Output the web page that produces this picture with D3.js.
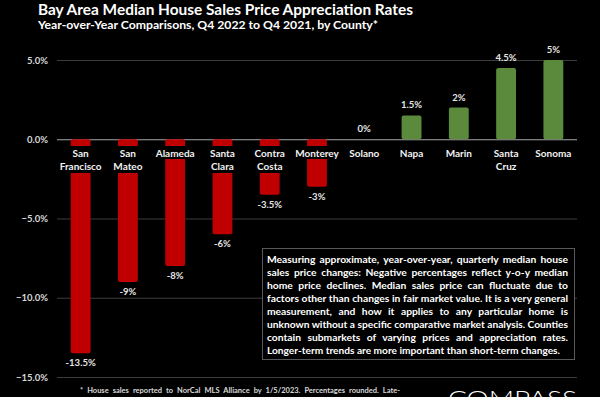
<!DOCTYPE html>
<html>
<head>
<meta charset="utf-8">
<script src="https://cdn.jsdelivr.net/npm/d3@7"></script>
<style>
  body { margin: 0; background: #000; }
  svg { display: block; font-family: Lato, "Open Sans", sans-serif; }
</style>
</head>
<body>
<div id="chart"></div>
<script>
// Data
const counties = ["San Francisco", "San Mateo", "Alameda", "Santa Clara", "Contra Costa",
    "Monterey", "Solano", "Napa", "Marin", "Santa Cruz", "Sonoma"];
const changes = [-13.5, -9, -8, -6, -3.5, -3, 0, 1.5, 2, 4.5, 5];
const yTicks = [-15, -10, -5, 0, 5];

const title = "Bay Area Median House Sales Price Appreciation Rates";
const subtitle = "Year-over-Year Comparisons, Q4 2022 to Q4 2021, by County*";
const noteLines = [
    "Measuring approximate, year-over-year, quarterly median house",
    "sales price changes: Negative percentages reflect y-o-y median",
    "home price declines. Median sales price can fluctuate due to",
    "factors other than changes in fair market value. It is a very general",
    "measurement, and how it applies to any particular home is",
    "unknown without a specific comparative market analysis. Counties",
    "contain submarkets of varying prices and appreciation rates.",
    "Longer-term trends are more important than short-term changes."
];
const footnote = "* House sales reported to NorCal MLS Alliance by 1/5/2023. Percentages rounded. Late-";

const data = counties.map((c, i) => ({ county: c, value: changes[i] }));

const width = 600, height = 397;
const svg = d3.select("#chart").append("svg")
    .attr("width", width)
    .attr("height", height);

svg.append("rect").attr("width", width).attr("height", height).attr("fill", "#000");

// fit a text line to a given width by spreading words (or squeezing if too long)
function fitLine(sel, w, squeeze) {
    sel.each(function() {
        const t = d3.select(this);
        const natural = this.getComputedTextLength();
        const spaces = (t.text().match(/ /g) || []).length;
        if (natural > w || squeeze) {
            t.attr("textLength", w).attr("lengthAdjust", "spacingAndGlyphs");
        } else if (spaces > 0) {
            t.attr("word-spacing", (w - natural) / spaces);
        }
    });
}

// Titles
svg.append("text")
    .attr("x", 38).attr("y", 15)
    .attr("fill", "#fff")
    .attr("font-size", 16).attr("font-weight", 700)
    .text(title)
    .call(fitLine, 375, true);

svg.append("text")
    .attr("x", 38).attr("y", 29)
    .attr("fill", "#fff")
    .attr("font-size", 12).attr("font-weight", 700)
    .text(subtitle)
    .call(fitLine, 340, true);

// Scales
const x = d3.scaleBand()
    .domain(counties)
    .range([57, 577])
    .paddingInner(0.58)
    .paddingOuter(0.29);

const y = d3.scaleLinear()
    .domain([-15, 5])
    .range([377, 60]);

// Y axis with gridlines
const yAxis = svg.append("g")
    .attr("transform", "translate(57,0)")
    .call(d3.axisLeft(y)
        .tickValues(yTicks)
        .tickSize(-520)
        .tickPadding(9)
        .tickFormat(d => d3.format(".1f")(d) + "%"));

yAxis.select(".domain").remove();
yAxis.selectAll(".tick line")
    .attr("stroke", d => d === 0 ? "#a6a6a6" : "#3c3c3c")
    .attr("stroke-width", 1);
yAxis.selectAll(".tick text")
    .attr("fill", "#d9d9d9")
    .attr("font-size", 9.5)
    .attr("font-weight", 700)
    .attr("font-family", "Lato, sans-serif");

// Bars
svg.selectAll(".bar")
    .data(data)
    .join("rect")
    .attr("class", "bar")
    .attr("x", d => x(d.county))
    .attr("width", x.bandwidth())
    .attr("y", d => y(Math.max(0, d.value)))
    .attr("height", d => Math.abs(y(d.value) - y(0)))
    .attr("rx", 2)
    .attr("fill", d => d.value < 0 ? "#c00000" : "#5b8a3c");

// Category labels on black boxes
const cat = svg.selectAll(".cat")
    .data(data)
    .join("g")
    .attr("class", "cat")
    .attr("transform", d => `translate(${x(d.county) + x.bandwidth() / 2},0)`);

cat.append("rect")
    .attr("x", -x.bandwidth() / 2 - 2)
    .attr("width", x.bandwidth() + 4)
    .attr("y", 146)
    .attr("height", d => d.county.split(" ").length > 1 ? 27 : 13)
    .attr("fill", "#000");

cat.append("text")
    .attr("text-anchor", "middle")
    .attr("fill", "#f2f2f2")
    .attr("font-size", 10)
    .attr("font-weight", 700)
    .selectAll("tspan")
    .data(d => d.county.split(" "))
    .join("tspan")
    .attr("x", 0)
    .attr("y", (d, i) => 157 + i * 13)
    .text(d => d);

// Value labels
svg.selectAll(".val")
    .data(data)
    .join("text")
    .attr("class", "val")
    .attr("x", d => x(d.county) + x.bandwidth() / 2)
    .attr("y", d => d.value < 0 ? y(d.value) + 13 : y(d.value) - 7)
    .attr("text-anchor", "middle")
    .attr("fill", "#e6e6e6")
    .attr("font-size", 9.5)
    .attr("font-weight", 700)
    .text(d => d.value + "%");

// Note box
svg.append("rect")
    .attr("x", 262.5).attr("y", 248.5)
    .attr("width", 312).attr("height", 111)
    .attr("fill", "#000")
    .attr("stroke", "#595959");

svg.append("g").selectAll("text")
    .data(noteLines)
    .join("text")
    .attr("x", 267)
    .attr("y", (d, i) => 263 + i * 13)
    .attr("fill", "#fff")
    .attr("font-size", 10.3)
    .attr("font-weight", 700)
    .text(d => d)
    .each(function(d, i) {
        if (i < noteLines.length - 1) d3.select(this).call(fitLine, 301, false);
        else if (this.getComputedTextLength() > 293) d3.select(this).call(fitLine, 293, true);
    });

// Footnote
svg.append("text")
    .attr("x", 80).attr("y", 393)
    .attr("fill", "#d9d9d9")
    .attr("font-size", 7.5)
    .attr("font-weight", 700)
    .text(footnote)
    .call(fitLine, 320, false);

// Logo (cropped at the bottom edge, as in the source image)
svg.append("text")
    .attr("x", 448).attr("y", 406)
    .attr("fill", "#fff")
    .attr("font-size", 22)
    .attr("font-weight", 300)
    .text("COMPASS")
    .call(fitLine, 129, true);
</script>
</body>
</html>
